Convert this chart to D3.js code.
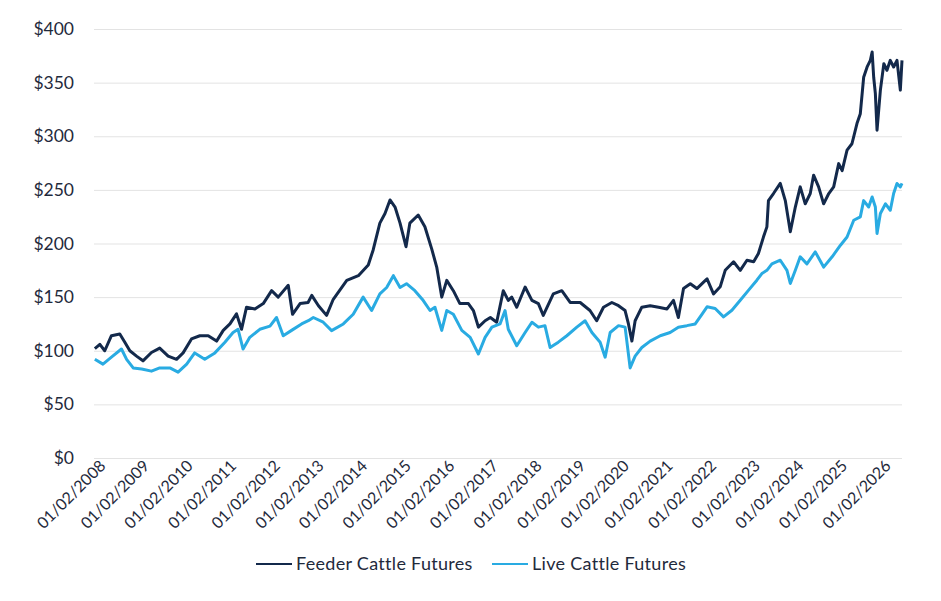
<!DOCTYPE html>
<html>
<head>
<meta charset="utf-8">
<script src="https://cdn.jsdelivr.net/npm/d3@7"></script>
<style>
  body { margin: 0; background: #fff; }
  #chart text { font-family: Lato, "Open Sans", sans-serif; fill: #1f2a3c; }
</style>
</head>
<body>
<div id="chart"></div>
<script>
// data
const feederDates = ["2008-01-09","2008-02-20","2008-04-01","2008-05-27","2008-08-05","2008-09-16","2008-10-28","2008-12-23",
  "2009-02-15","2009-04-27","2009-07-05","2009-09-14","2009-11-23","2010-01-17","2010-03-28","2010-06-06","2010-08-15",
  "2010-10-24","2010-12-19","2011-02-13","2011-04-09","2011-05-21","2011-07-02","2011-09-10","2011-11-19","2012-01-28",
  "2012-03-23","2012-06-15","2012-07-21","2012-09-22","2012-11-28","2012-12-29","2013-02-23","2013-05-02","2013-06-27",
  "2013-10-18","2014-01-23","2014-04-16","2014-05-27","2014-07-22","2014-09-03","2014-10-15","2014-11-26","2015-01-07",
  "2015-02-26","2015-03-30","2015-06-08","2015-08-03","2015-09-29","2015-11-10","2015-12-22","2016-02-02","2016-03-28",
  "2016-05-22","2016-08-01","2016-09-12","2016-10-24","2016-12-19","2017-02-01","2017-03-26","2017-05-20","2017-07-01",
  "2017-07-30","2017-09-10","2017-11-19","2018-01-15","2018-03-10","2018-04-20","2018-07-13","2018-09-22","2018-12-01",
  "2019-02-23","2019-05-16","2019-07-11","2019-09-06","2019-11-15","2020-01-10","2020-03-05","2020-04-02","2020-05-01",
  "2020-05-28","2020-07-23","2020-10-01","2020-12-10","2021-02-19","2021-04-14","2021-05-25","2021-07-07","2021-09-02",
  "2021-10-27","2021-12-22","2022-01-20","2022-03-15","2022-05-10","2022-06-21","2022-08-30","2022-10-25","2022-12-20",
  "2023-02-14","2023-03-26","2023-05-07","2023-06-05","2023-06-18","2023-07-30","2023-09-25","2023-11-06","2023-12-18",
  "2024-01-29","2024-03-10","2024-04-21","2024-06-02","2024-06-30","2024-08-11","2024-09-22","2024-11-04","2024-12-15",
  "2025-01-26","2025-02-24","2025-04-06","2025-05-17","2025-06-28","2025-07-26","2025-08-23","2025-09-21","2025-10-18",
  "2025-11-02","2025-11-15","2025-11-29","2025-12-13","2026-01-10","2026-02-08","2026-03-06","2026-04-03","2026-05-01",
  "2026-05-29","2026-06-26","2026-07-10"];
const feederValues = [102,106,100,114,115.6,108,100,95,
  90.6,98.4,102.5,95,92,98,111,114,114,
  109,119,125,134.4,120,140.6,139,144,156,
  150,161,134,144,145,151.6,142,133,148,
  165.6,170,180,194,219,228,240.6,234,219,
  197,219,226.6,215.6,195,178,150,165.6,156,
  144,144,137.5,122,128,131,126.6,156,147,
  150,140.6,159.4,147,144,133,153,156,145,
  145,137.5,128,140.6,145,142,137.5,125,109,
  128,140.6,142,140.6,139,147,131,158,162.5,
  158,164,167,153,159.6,175,183,175,184.4,
  183,190.7,206,215.5,240,246.6,256,240,210.9,
  234,252.8,237,246.6,263.7,252.8,237,246.6,252.8,
  274.5,268,287,293,311.8,321,355,364.6,370.8,
  378.6,355,339.8,305.6,343,367.7,361.5,370.8,364.6,
  370.8,343,370.8];

const liveDates = ["2008-01-09","2008-03-17","2008-05-27","2008-08-19","2008-10-01","2008-11-25","2009-02-04","2009-04-27",
  "2009-07-05","2009-09-28","2009-12-06","2010-02-16","2010-04-24","2010-07-17","2010-10-10","2011-01-02","2011-03-11",
  "2011-04-22","2011-06-03","2011-07-29","2011-10-21","2012-01-14","2012-03-09","2012-05-04","2012-07-13","2012-10-05",
  "2012-11-30","2013-01-11","2013-04-04","2013-06-13","2013-09-19","2013-12-11","2014-03-04","2014-05-14","2014-07-22",
  "2014-09-17","2014-11-12","2015-01-07","2015-03-02","2015-05-11","2015-07-19","2015-09-15","2015-10-26","2015-12-22",
  "2016-02-02","2016-03-28","2016-06-07","2016-08-16","2016-10-24","2016-12-19","2017-02-14","2017-04-23","2017-06-04",
  "2017-07-01","2017-09-10","2017-11-19","2018-01-15","2018-03-10","2018-05-04","2018-06-16","2018-08-24","2018-11-03",
  "2019-01-26","2019-04-05","2019-06-01","2019-08-09","2019-09-20","2019-11-01","2020-01-10","2020-03-05","2020-04-16",
  "2020-05-28","2020-07-23","2020-10-01","2020-12-24","2021-03-17","2021-05-25","2021-08-04","2021-10-13","2021-12-08",
  "2022-01-20","2022-03-29","2022-06-07","2022-08-16","2022-10-25","2023-01-03","2023-03-13","2023-04-24","2023-06-05",
  "2023-07-17","2023-09-25","2023-11-20","2023-12-18","2024-01-29","2024-03-10","2024-05-05","2024-07-14","2024-09-22",
  "2024-12-02","2025-02-10","2025-04-06","2025-06-01","2025-07-26","2025-08-23","2025-10-04","2025-11-02","2025-11-29",
  "2025-12-13","2026-01-10","2026-02-22","2026-04-03","2026-05-01","2026-05-29","2026-06-26","2026-07-10"];
const liveValues = [92,87.5,94,101.6,92,84,83,81,
  84,84,80,87.5,98,92,98,108,117,
  120,101.6,112.5,120,123,131,114,119,125,
  128,131,126.6,118.75,125,134,150,137.5,153,
  159,170,159,162.5,156,147,137.5,140.6,119,
  137.5,134,119,112.5,97,112.5,122,125,137.5,
  120,104.7,117,126.6,122,123.4,103,108,114,
  122,128,117,108,94,117,123.4,122,84,
  95,103,109,114,117,122,123.4,125,134,
  141,139.4,131.6,137.8,147,156.5,165.8,172,175,
  181,184.4,175,162.7,175,187.6,181,192.2,178,
  187.6,198.4,206,221.7,224.8,240,234,243.4,234,
  209.3,228,237,231,246.6,256,252.8,256];

const yTicks = [0, 50, 100, 150, 200, 250, 300, 350, 400];
const xTickYears = d3.range(2008, 2027);
const seriesNames = ["Feeder Cattle Futures", "Live Cattle Futures"];
const seriesColors = ["#13294b", "#29abe2"];

const width = 941, height = 601;
const margin = { left: 94, right: 39, top: 29, bottom: 143 };

const parse = d3.timeParse("%Y-%m-%d");
const feeder = feederDates.map((d, i) => ({ date: parse(d), value: feederValues[i] }));
const live = liveDates.map((d, i) => ({ date: parse(d), value: liveValues[i] }));

const svg = d3.select("#chart").append("svg")
  .attr("width", width)
  .attr("height", height);

const x = d3.scaleTime()
  .domain([new Date(2008, 0, 2), d3.max(feeder, d => d.date)])
  .range([margin.left, width - margin.right]);

const y = d3.scaleLinear()
  .domain([0, 400])
  .range([height - margin.bottom, margin.top]);

// y axis + gridlines
const yAxis = svg.append("g")
  .attr("transform", `translate(${margin.left},0)`)
  .call(d3.axisLeft(y).tickValues(yTicks)
    .tickSize(-(width - margin.left - margin.right))
    .tickPadding(20)
    .tickFormat(d => "$" + d));
yAxis.select(".domain").remove();
yAxis.selectAll(".tick line").attr("stroke", "#e3e3e3").attr("stroke-width", 1);
yAxis.selectAll(".tick text").style("font-size", "17.5px");

// x axis labels
const xAxis = svg.append("g")
  .attr("transform", `translate(0,${height - margin.bottom})`)
  .call(d3.axisBottom(x)
    .tickValues(xTickYears.map(yr => new Date(yr, 0, 2)))
    .tickSize(0)
    .tickFormat(d3.timeFormat("%m/%d/%Y")));
xAxis.select(".domain").remove();
xAxis.selectAll(".tick text")
  .attr("x", 0).attr("y", 0).attr("dy", 0)
  .attr("text-anchor", "end")
  .attr("transform", "translate(12,9) rotate(-45)")
  .style("font-size", "16px");

// lines
const line = d3.line()
  .x(d => x(d.date))
  .y(d => y(d.value));

[feeder, live].forEach((s, i) => {
  svg.append("path")
    .datum(s)
    .attr("fill", "none")
    .attr("stroke", seriesColors[i])
    .attr("stroke-width", 3)
    .attr("stroke-linejoin", "round")
    .attr("d", line);
});

// legend
const legendX = [256, 492];
const legend = svg.append("g").attr("transform", "translate(0,564)");
seriesNames.forEach((name, i) => {
  legend.append("line")
    .attr("x1", legendX[i]).attr("x2", legendX[i] + 36)
    .attr("y1", 0).attr("y2", 0)
    .attr("stroke", seriesColors[i])
    .attr("stroke-width", 2);
  legend.append("text")
    .attr("x", legendX[i] + 40)
    .attr("y", 0)
    .attr("dy", "0.35em")
    .style("font-size", "18px")
    .style("letter-spacing", "0.3px")
    .text(name);
});
</script>
</body>
</html>
